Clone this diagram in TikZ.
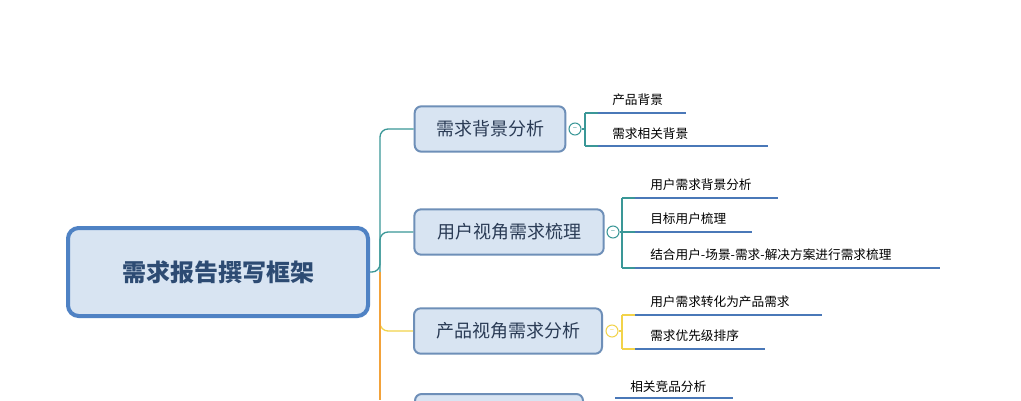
\documentclass[tikz,border=0pt]{standalone}
\usepackage{fontspec}
\setmainfont{Noto Sans CJK SC}
\begin{document}
\begin{tikzpicture}[x=0.75pt,y=-0.75pt,
  rootbox/.style={draw=rootblue,line width=3pt,fill=boxfill,rounded corners=8pt,minimum width=225pt,minimum height=66pt,font=\fontsize{18}{20}\selectfont\bfseries,text=textblue},
  subbox/.style={draw=subborder,line width=1.5pt,fill=boxfill,rounded corners=5pt,minimum height=34pt,font=\fontsize{13.5}{15}\selectfont,text=textdark},
  tog/.style={circle,draw,line width=0.8pt,fill=white,inner sep=0pt,minimum size=9pt,font=\fontsize{6}{6}\selectfont},
  leaf/.style={anchor=south west,inner sep=0pt,font=\fontsize{9.5}{11}\selectfont,text=black},
  uline/.style={draw=lineblue,line width=2.2pt},
  conn/.style={line width=1pt,rounded corners=6pt}]
\definecolor{rootblue}{HTML}{4F82C4}
\definecolor{boxfill}{HTML}{D8E4F2}
\definecolor{subborder}{HTML}{6E8FB8}
\definecolor{textblue}{HTML}{2D4B73}
\definecolor{textdark}{HTML}{2A3B55}
\definecolor{lineblue}{HTML}{4A78B8}
\definecolor{teal}{HTML}{3A9797}
\definecolor{yel}{HTML}{F2D34A}
\definecolor{org}{HTML}{F2A23A}
\useasboundingbox (0,0) rectangle (1021,400);
\fill[white] (0,0) rectangle (1021,400);

\node[rootbox] (root) at (218,272) {需求报告撰写框架};
\coordinate (hub) at (380,272);

\node[subbox,minimum width=113pt] (b1) at (490,129) {需求背景分析};
\node[subbox,minimum width=142pt] (b2) at (509,232) {用户视角需求梳理};
\node[subbox,minimum width=141pt] (b3) at (508,331) {产品视角需求分析};
\node[subbox,minimum width=126pt,anchor=north west] (b4) at (414,393) {};

% trunk connectors
\draw[conn,draw=teal] (root.east) -- (hub) |- (b1.west);
\draw[conn,draw=teal] (hub) |- (b2.west);
\draw[conn,draw=yel] (hub) |- (b3.west);
\draw[line width=1pt,draw=org] (hub) -- (380,400);

% branch 1
\node[tog,draw=teal,text=teal] (t1) at (575,129) {--};
\draw[conn,draw=teal] (t1.east) -- (585,129);
\draw[line width=1pt,draw=teal] (585,113) -- (585,146);
\draw[line width=1pt,draw=teal] (585,113) -- (598,113) (585,146) -- (598,146);
\draw[uline] (598,113) -- (686,113);
\draw[uline] (598,146) -- (768,146);
\node[leaf] (l11) at (612,106) {产品背景};
\node[leaf] (l12) at (612,140) {需求相关背景};

% branch 2
\node[tog,draw=teal,text=teal] (t2) at (613,232) {--};
\draw[line width=1pt,draw=teal] (t2.east) -- (622,232);
\draw[line width=1pt,draw=teal] (622,198) -- (622,268);
\draw[line width=1pt,draw=teal] (622,198) -- (635,198) (622,232) -- (635,232) (622,268) -- (635,268);
\draw[uline] (635,198) -- (778,198);
\draw[uline] (635,232) -- (752,232);
\draw[uline] (635,268) -- (940,268);
\node[leaf] (l21) at (650,191) {用户需求背景分析};
\node[leaf] (l22) at (650,225) {目标用户梳理};
\node[leaf] (l23) at (650,261) {结合用户-场景-需求-解决方案进行需求梳理};

% branch 3
\node[tog,draw=yel,text=yel] (t3) at (612,331) {--};
\draw[line width=1pt,draw=yel] (t3.east) -- (622,331);
\draw[line width=1pt,draw=yel] (622,315) -- (622,349);
\draw[line width=1pt,draw=yel] (622,315) -- (635,315) (622,349) -- (635,349);
\draw[uline] (635,315) -- (822,315);
\draw[uline] (635,349) -- (765,349);
\node[leaf] (l31) at (650,308) {用户需求转化为产品需求};
\node[leaf] (l32) at (650,342) {需求优先级排序};

% branch 4 (cut off)
\draw[uline] (615,398) -- (733,398);
\node[leaf] (l41) at (630,393) {相关竞品分析};
\end{tikzpicture}
\end{document}
